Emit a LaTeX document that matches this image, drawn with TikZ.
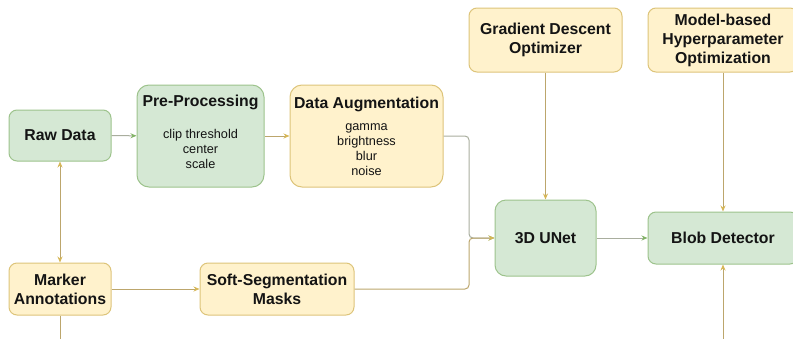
\documentclass[tikz,border=0pt]{standalone}
\usepackage{fontspec}
\setmainfont{Liberation Sans}
\usetikzlibrary{arrows.meta}
\definecolor{gfill}{HTML}{D5E8D4}
\definecolor{gdraw}{HTML}{9DC38C}
\definecolor{yfill}{HTML}{FFF2CC}
\definecolor{ydraw}{HTML}{DDC47A}
\definecolor{gline}{HTML}{A9AE9E}
\definecolor{yline}{HTML}{BCA66C}
\definecolor{gtip}{HTML}{82B366}
\definecolor{ytip}{HTML}{D6B656}
\definecolor{ink}{HTML}{141414}
\begin{document}
\begin{tikzpicture}[x=1pt,y=-1pt,
  box/.style={rounded corners=8pt,line width=1pt,text=ink,align=center,
    font=\fontsize{15.8}{19}\selectfont\bfseries},
  greenbox/.style={box,draw=gdraw,fill=gfill},
  yellowbox/.style={box,draw=ydraw,fill=yfill},
  head/.style={text=ink,font=\fontsize{15.8}{19}\selectfont\bfseries},
  items/.style={text=ink,align=center,font=\fontsize{12.7}{15}\selectfont},
  gconn/.style={draw=gline,line width=1pt,-{Stealth[length=6pt,width=5pt,color=gtip]}},
  yconn/.style={draw=yline,line width=1pt,-{Stealth[length=6pt,width=5pt,color=ytip]}}]
\useasboundingbox (0,0) rectangle (793,338);
\clip (0,0) rectangle (793,338);

\node[greenbox,minimum width=102pt,minimum height=51pt] (raw) at (60,135.5) {Raw Data};
\node[greenbox,rounded corners=12pt,minimum width=127pt,minimum height=102pt] (pre) at (200.5,136) {};
\node[head] (pretitle) at (200.5,102) {Pre-Processing};
\node[items] (prelist) at (200.5,149) {clip threshold\\center\\scale};
\node[yellowbox,rounded corners=12pt,minimum width=153pt,minimum height=102pt] (aug) at (366.5,136) {};
\node[head] (augtitle) at (366.5,104) {Data Augmentation};
\node[items] (auglist) at (366.5,149.5) {gamma\\brightness\\blur\\noise};
\node[yellowbox,minimum width=102pt,minimum height=52pt] (marker) at (60,289) {Marker\\Annotations};
\node[yellowbox,minimum width=154pt,minimum height=52pt] (soft) at (277,289) {Soft-Segmentation\\Masks};
\node[yellowbox,minimum width=153pt,minimum height=64pt] (grad) at (545.5,40) {Gradient Descent\\Optimizer};
\node[yellowbox,minimum width=150pt,minimum height=64pt] (hyper) at (723,40) {Model-based\\Hyperparameter\\Optimization};
\node[greenbox,rounded corners=11pt,minimum width=101pt,minimum height=76pt] (unet) at (545.5,238) {3D UNet};
\node[greenbox,minimum width=150pt,minimum height=52pt] (blob) at (723,238) {Blob Detector};

\coordinate (merge) at (469,238);
\coordinate (markerout) at (60,345);
\coordinate (blobin) at (723,345);

\draw[gconn] (raw) -- (pre);
\draw[yconn] (pre) -- (aug);
\draw[yconn,{Stealth[length=6pt,width=5pt,color=ytip]}-{Stealth[length=6pt,width=5pt,color=ytip]}] (raw) -- (marker);
\draw[draw=yline,line width=1pt] (marker) -- (markerout);
\draw[yconn] (marker) -- (soft);
\draw[gconn,rounded corners=4pt] (aug.east) -| (merge) -- (unet.west);
\draw[yconn,rounded corners=4pt] (soft.east) -| (merge) -- (unet.west);
\draw[yconn] (grad) -- (unet);
\draw[yconn] (hyper) -- (blob);
\draw[gconn] (unet) -- (blob);
\draw[yconn] (blobin) -- (blob);
\end{tikzpicture}
\end{document}
